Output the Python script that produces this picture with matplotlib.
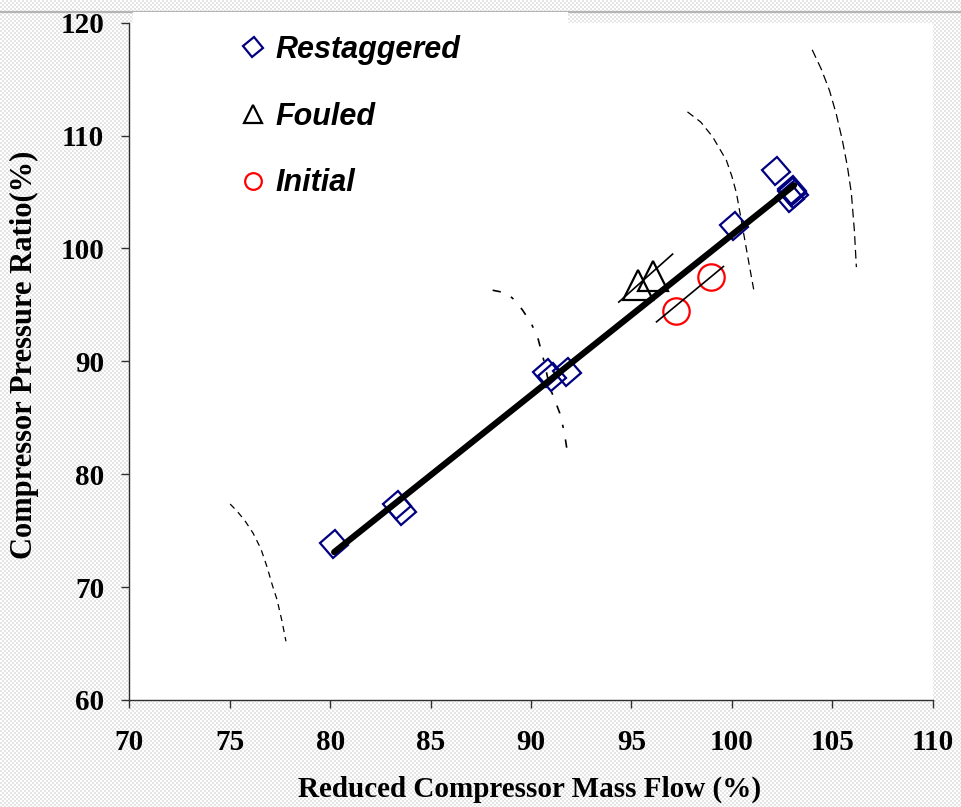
import numpy as np
import matplotlib
matplotlib.use("Agg")
import matplotlib.pyplot as plt
from matplotlib.markers import MarkerStyle
from matplotlib.transforms import Affine2D
from matplotlib.lines import Line2D
from matplotlib.patches import Rectangle

# ---------------- data ----------------
restag_x = [80.2, 83.35, 83.6, 90.8, 91.05, 91.8, 100.1, 102.2, 102.9, 103.0, 103.1, 103.0]
restag_y = [73.8, 77.3, 76.7, 89.0, 88.6, 89.05, 102.0, 106.9, 104.5, 105.0, 104.8, 105.2]

fouled_x = [95.35, 96.05]
fouled_y = [96.8, 97.55]
fouled_line_x = [94.37, 97.05]
fouled_line_y = [95.25, 99.5]

initial_x = [97.2, 98.98]
initial_y = [94.5, 97.5]
initial_line_x = [96.25, 99.58]
initial_line_y = [93.5, 98.4]

fit_x = [80.2, 103.1]
fit_y = [73.1, 105.6]

speed1_x = [75.02, 75.36, 75.75, 76.16, 76.55, 76.86, 77.1, 77.36, 77.6, 77.8]
speed1_y = [77.36, 76.74, 75.9, 74.79, 73.4, 71.78, 70.3, 68.86, 67.0, 65.2]

speed2_x = [88.09, 88.79, 89.2, 89.58, 90.0, 90.33, 90.65, 90.93, 91.2, 91.43, 91.65, 91.78]
speed2_y = [96.3, 96.05, 95.4, 94.54, 93.4, 92.15, 90.0, 87.72, 86.5, 85.42, 83.8, 82.32]

speed3_x = [97.79, 98.45, 99.04, 99.73, 100.0, 100.23, 100.53, 100.88, 101.12]
speed3_y = [112.1, 111.2, 109.9, 107.8, 106.4, 104.9, 101.9, 98.4, 96.05]

speed4_x = [104.0, 104.45, 104.86, 105.2, 105.5, 105.75, 105.95, 106.1, 106.2]
speed4_y = [117.6, 115.9, 114.0, 111.9, 109.6, 107.3, 104.9, 101.6, 98.35]

x_ticks = [70, 75, 80, 85, 90, 95, 100, 105, 110]
y_ticks = [60, 70, 80, 90, 100, 110, 120]

legend_labels = ["Restaggered", "Fouled", "Initial"]

# ---------------- figure ----------------
W, H = 961, 807
fig = plt.figure(figsize=(W / 100, H / 100), dpi=100)

# checker background
yy, xx = np.mgrid[0:H, 0:W]
chk = (((xx // 2) + (yy // 2)) % 2).astype(float)
bg = 1.0 - 0.10 * chk
fig.figimage(np.dstack([bg, bg, bg]), xo=0, yo=0, origin="upper", zorder=0)

# top grey line and white strip
fig.add_artist(Line2D([0, 1], [1 - 11.5 / H, 1 - 11.5 / H], transform=fig.transFigure,
                      color="#b4b4b4", lw=1.6, zorder=1))
fig.add_artist(Rectangle((133 / W, 1 - 23 / H), (568 - 133) / W, 11 / H,
                         transform=fig.transFigure, facecolor="white", edgecolor="none", zorder=1))

ax = fig.add_axes([129.3 / W, 1 - 700 / H, (932.7 - 129.3) / W, (700 - 22.7) / H])
ax.set_facecolor("white")
ax.set_zorder(2)

diamond = MarkerStyle("s", transform=Affine2D().rotate_deg(40))

ax.plot(speed1_x, speed1_y, color="black", lw=0.9, linestyle=(0, (5, 4)))
ax.plot(speed2_x, speed2_y, color="black", lw=1.2, linestyle=(0, (5, 7, 2, 7)))
ax.plot(speed3_x, speed3_y, color="black", lw=0.9, linestyle=(0, (6, 4)))
ax.plot(speed4_x, speed4_y, color="black", lw=0.9, linestyle=(0, (7, 4)))

ax.plot(restag_x, restag_y, linestyle="none", marker=diamond, ms=14.5,
        markerfacecolor="none", markeredgecolor="#000080", mew=1.6)
ax.plot(fouled_x, fouled_y, linestyle="none", marker="^", ms=21,
        markerfacecolor="none", markeredgecolor="black", mew=1.6)
ax.plot(initial_x, initial_y, linestyle="none", marker="o", ms=19,
        markerfacecolor="none", markeredgecolor="red", mew=1.6)

ax.plot(fouled_line_x, fouled_line_y, color="black", lw=1.2)
ax.plot(initial_line_x, initial_line_y, color="black", lw=1.2)
ax.plot(fit_x, fit_y, color="black", lw=4.5, solid_capstyle="round")

ax.set_xlim(70, 110)
ax.set_ylim(60, 120)
ax.set_xticks(x_ticks)
ax.set_yticks(y_ticks)
ax.set_xticklabels([str(t) for t in x_ticks])
ax.set_yticklabels([str(t) for t in y_ticks])

for s in ["top", "right"]:
    ax.spines[s].set_visible(False)
for s in ["left", "bottom"]:
    ax.spines[s].set_color("#303030")
    ax.spines[s].set_linewidth(1.0)

ax.tick_params(axis="both", direction="out", length=6, width=1.0, color="#303030")
ax.tick_params(axis="x", pad=15)
ax.tick_params(axis="y", pad=12)
for lbl in ax.get_xticklabels() + ax.get_yticklabels():
    lbl.set_fontfamily("Liberation Serif")
    lbl.set_fontweight("bold")
    lbl.set_fontsize(21)

ax.set_xlabel("Reduced Compressor Mass Flow (%)", fontfamily="Liberation Serif",
              fontweight="bold", fontsize=21)
ax.set_ylabel("Compressor Pressure Ratio(%)", fontfamily="Liberation Serif",
              fontweight="bold", fontsize=22)
ax.xaxis.set_label_coords(0.498, -0.111)
ax.yaxis.set_label_coords(-0.113, 0.509)

handles = [
    Line2D([], [], linestyle="none", marker=diamond, ms=10, markerfacecolor="none",
           markeredgecolor="#000080", mew=1.6),
    Line2D([], [], linestyle="none", marker="^", ms=13, markerfacecolor="none",
           markeredgecolor="black", mew=1.6),
    Line2D([], [], linestyle="none", marker="o", ms=12, markerfacecolor="none",
           markeredgecolor="red", mew=1.6),
]
leg = ax.legend(handles, legend_labels, loc="upper left", bbox_to_anchor=(0.1388, 0.982),
                frameon=False, handlelength=0.8, handletextpad=0.35, labelspacing=1.2,
                borderaxespad=0, borderpad=0,
                prop=dict(family="Liberation Sans", weight="bold", style="italic", size=22))

fig.savefig("out.png", dpi=100)
